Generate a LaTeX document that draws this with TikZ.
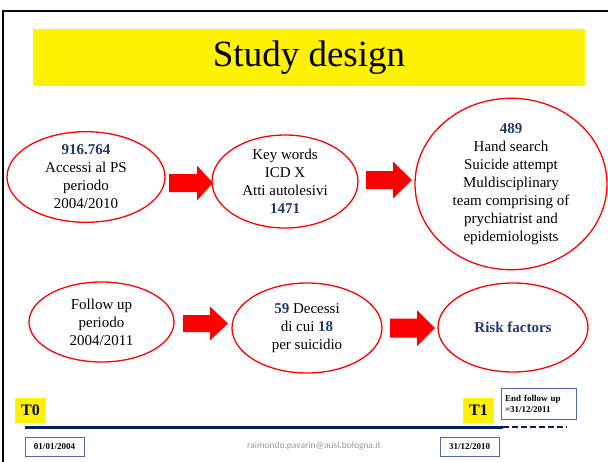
\documentclass[tikz,border=0pt]{standalone}
\usepackage{fontspec}
\setmainfont{Liberation Serif}
\newfontfamily\mailfont{Carlito}
\usetikzlibrary{shapes.geometric}
\definecolor{numblue}{RGB}{31,56,110}
\definecolor{navyline}{RGB}{0,32,96}
\definecolor{boxedge}{RGB}{80,105,160}
\definecolor{mailgray}{RGB}{150,150,150}
\tikzset{
  oval/.style={ellipse, draw=red, line width=1.3pt, inner sep=0pt, align=center,
    font=\fontsize{15}{18}\selectfont},
  blockarrow/.style={fill=red, draw=none},
  datebox/.style={draw=boxedge, line width=0.9pt, inner sep=0pt, align=center,
    font=\fontsize{9}{11}\bfseries\selectfont},
  tlabel/.style={fill=yellow, inner sep=0pt, font=\fontsize{16}{18}\bfseries\selectfont},
  num/.style={text=numblue, font=\bfseries}
}
% block arrow: x start, x end, y centre, half shaft, x where head begins, half head
\newcommand\redblockarrow[6]{%
  \fill[blockarrow] (#1,#3-#4) -- (#5,#3-#4) -- (#5,#3-#6) -- (#2,#3)
    -- (#5,#3+#6) -- (#5,#3+#4) -- (#1,#3+#4) -- cycle;}
\begin{document}
\begin{tikzpicture}[x=1pt,y=-1pt]
\useasboundingbox (0,0) rectangle (608,461);
% slide frame
\draw[line width=2pt] (3,462) -- (3,11) -- (609,11);
% title bar
\node[fill=yellow, minimum width=552pt, minimum height=57pt, inner sep=0pt,
  font=\fontsize{37}{40}\selectfont] (title) at (309,57.5) {Study design};

% first row
\node[oval, minimum width=158pt, minimum height=88pt] (ps) at (86,177)
  {{\color{numblue}\bfseries 916.764}\\Accessi al PS\\periodo\\2004/2010};
\node[oval, minimum width=146pt, minimum height=93pt] (kw) at (285,181.5)
  {Key words\\ICD X\\Atti autolesivi\\{\color{numblue}\bfseries 1471}};
\node[oval, minimum width=192pt, minimum height=142pt] (hs) at (511,184)
  {{\color{numblue}\bfseries 489}\\Hand search\\Suicide attempt\\Muldisciplinary\\team comprising of\\prychiatrist and\\epidemiologists};
\redblockarrow{169}{213}{183}{9}{197}{17.5}
\redblockarrow{366}{412}{180}{9}{393}{18.5}

% second row
\node[oval, minimum width=145pt, minimum height=80pt] (fu) at (101.5,322)
  {Follow up\\periodo\\2004/2011};
\node[oval, minimum width=150pt, minimum height=90pt] (dc) at (307,328)
  {{\color{numblue}\bfseries 59} Decessi\\di cui {\color{numblue}\bfseries 18}\\per suicidio};
\node[oval, minimum width=150pt, minimum height=89pt] (rf) at (513,327.5)
  {{\color{numblue}\bfseries Risk factors}};
\redblockarrow{183}{228}{323.5}{8.5}{210}{17}
\redblockarrow{390}{435}{328}{9.5}{417}{18}

% time line
\coordinate (tstart) at (25,427);
\coordinate (tend) at (503,427);
\coordinate (fend) at (567,427);
\draw[navyline, line width=3pt] (tstart) -- (tend);
\draw[navyline, line width=2pt, dash pattern=on 6pt off 3pt] (tend) -- (fend);
\node[tlabel, minimum width=31pt, minimum height=25pt] (t0) at (30.5,410.5) {T0};
\node[tlabel, minimum width=31pt, minimum height=25pt] (t1) at (478.5,410.5) {T1};
\node[datebox, minimum width=59pt, minimum height=19pt] (d0) at (54.5,446.5) {01/01/2004};
\node[datebox, minimum width=59pt, minimum height=19pt] (d1) at (469.5,446.5) {31/12/2010};
\node[datebox, minimum width=75pt, minimum height=31pt, align=left, inner xsep=4pt,
  text width=67pt] (d2) at (538.5,403.5) {End follow up\\=31/12/2011};
\node[text=mailgray, font=\mailfont\fontsize{9.5}{11}\selectfont] (mail) at (314,446.5)
  {raimondo.pavarin@ausl.bologna.it};
\end{tikzpicture}
\end{document}
